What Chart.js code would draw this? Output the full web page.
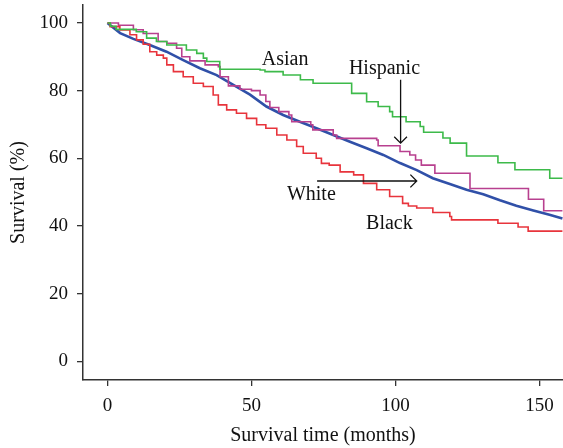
<!DOCTYPE html>
<html>
<head>
<meta charset="utf-8">
<script src="https://cdn.jsdelivr.net/npm/chart.js@4.4.1/dist/chart.umd.min.js"></script>
<style>
  html, body { margin: 0; padding: 0; background: #fff; }
  #wrap { width: 563px; height: 448px; }
</style>
</head>
<body>
<div id="wrap"><canvas id="kmChart" width="563" height="448"></canvas></div>
<script>
// survival time in months and survival %
var asianT = [0, 1, 3, 10, 13.6, 17, 20.6, 27.4, 31, 33.3, 34.5, 39, 53, 54.7, 61, 67, 71.4, 84.8, 90, 94, 98, 99, 103.7, 108.6, 109.8, 116.5, 119, 124.7, 135.6, 141.5, 153.6, 158];
var asianS = [100, 99, 98.1, 97.4, 95.5, 94.5, 93.5, 92, 91, 89.6, 88.6, 86.3, 86.1, 85.6, 84.6, 83.2, 82.2, 79.2, 76.7, 75.3, 73.8, 72.3, 70.8, 69.4, 67.7, 66, 64.5, 60.7, 58.7, 56.6, 54.1, 54.1];

var whiteT = [0, 4.4, 9, 14.7, 20.5, 26.3, 32.1, 37.9, 43.7, 49.5, 55.2, 61, 66.8, 72.6, 78.4, 84.2, 90, 95.8, 101.6, 107.4, 113, 118.9, 124.7, 130.5, 136.3, 142, 147.9, 153.5, 158];
var whiteS = [100, 97, 95.3, 93.5, 91.5, 89, 86.6, 84.6, 81.7, 78.8, 75.3, 72.8, 70.8, 68.9, 66.9, 64.9, 63, 61, 58.6, 56.5, 54.1, 52.4, 50.7, 49.4, 47.6, 46, 44.6, 43.3, 42.2];

var hispT = [0, 3.8, 9, 12.4, 17.6, 20.6, 24, 25.8, 28.6, 33.9, 38.5, 39.1, 42, 46, 50, 53, 55, 56.4, 59.5, 63, 64, 70.6, 71.3, 78.4, 79.6, 93.5, 94, 101.6, 105, 107, 109, 113.7, 125.9, 146.2, 151.5, 158];
var hispS = [100, 99.3, 98, 96.9, 94.5, 94, 92.5, 90, 88.8, 87.6, 87.1, 84.1, 81.4, 80.4, 80, 78.7, 76.8, 75, 73.8, 72.8, 70.8, 69.9, 68.4, 66.9, 65.9, 65.4, 63.7, 62, 61, 59.5, 58, 55.6, 51.1, 47.9, 44.5, 44.5];

var blackT = [0, 0.9, 4.3, 7.8, 10.1, 12.4, 14.7, 17.1, 19.4, 20.6, 22.9, 26.3, 29.8, 33.3, 36.7, 38.5, 41.4, 44.8, 48.3, 51.8, 55, 58.8, 62.3, 65.7, 68, 72.5, 74.3, 77, 80.8, 85.5, 88.9, 93.5, 98, 102.5, 104.5, 107.4, 113, 118.9, 119.5, 135.6, 142.6, 146.1, 158];
var blackS = [100, 98.9, 97.9, 96.5, 95, 93.7, 91.5, 90.5, 89.6, 87.6, 85.6, 84.1, 82.2, 81.2, 78.7, 75.8, 74.3, 73.3, 71.8, 69.9, 68.9, 66.9, 65.4, 63.5, 61.5, 60, 58.5, 58, 56, 55.1, 52.6, 50.7, 48.7, 46.7, 45.9, 45.3, 44, 42.8, 41.8, 40.8, 39.7, 38.5, 38.5];

var xTicks = [0, 50, 100, 150];
var yTicks = [0, 20, 40, 60, 80, 100];

var serif = '"Liberation Serif", "Times New Roman", serif';

function toPoints(ts, ss) {
    return ts.map(function(t, i) { return { x: t, y: ss[i] }; });
}

// text labels and arrows, placed in data units
var labelSpots = [
    { text: 'Asian', x: 61.7, y: 89.2 },
    { text: 'Hispanic', x: 96.2, y: 86.6 },
    { text: 'White', x: 70.8, y: 49.1 },
    { text: 'Black', x: 97.9, y: 40.7 }
];
var arrowSpots = [
    { x1: 101.8, y1: 83.2, x2: 101.8, y2: 64.5 },
    { x1: 72.8, y1: 53.3, x2: 107.4, y2: 53.3 }
];

var labelPlugin = {
    id: 'groupLabels',
    afterDatasetsDraw: function(chart) {
        var ctx = chart.ctx;
        var xs = chart.scales.x, ys = chart.scales.y;
        ctx.save();
        ctx.fillStyle = '#111';
        ctx.font = '20px ' + serif;
        ctx.textAlign = 'center';
        ctx.textBaseline = 'middle';
        labelSpots.forEach(function(l) {
            ctx.fillText(l.text, xs.getPixelForValue(l.x), ys.getPixelForValue(l.y));
        });
        ctx.strokeStyle = '#111';
        ctx.lineWidth = 1.3;
        arrowSpots.forEach(function(a) {
            var x1 = xs.getPixelForValue(a.x1), y1 = ys.getPixelForValue(a.y1);
            var x2 = xs.getPixelForValue(a.x2), y2 = ys.getPixelForValue(a.y2);
            var ang = Math.atan2(y2 - y1, x2 - x1);
            var len = 9;
            ctx.beginPath();
            ctx.moveTo(x1, y1);
            ctx.lineTo(x2, y2);
            ctx.moveTo(x2 - len * Math.cos(ang - Math.PI / 4), y2 - len * Math.sin(ang - Math.PI / 4));
            ctx.lineTo(x2, y2);
            ctx.lineTo(x2 - len * Math.cos(ang + Math.PI / 4), y2 - len * Math.sin(ang + Math.PI / 4));
            ctx.stroke();
        });
        ctx.restore();
    }
};

function kmSet(ts, ss, color, width, stepped) {
    return {
        data: toPoints(ts, ss),
        borderColor: color,
        borderWidth: width,
        stepped: stepped,
        pointRadius: 0,
        fill: false,
        tension: 0
    };
}

var ctx = document.getElementById('kmChart').getContext('2d');
var kmChart = new Chart(ctx, {
    type: 'line',
    data: {
        datasets: [
            kmSet(asianT, asianS, '#3dba4a', 1.6, 'before'),
            kmSet(blackT, blackS, '#e8343c', 1.6, 'before'),
            kmSet(hispT, hispS, '#b8408f', 1.6, 'before'),
            kmSet(whiteT, whiteS, '#3050a8', 2.6, false)
        ]
    },
    options: {
        responsive: false,
        animation: false,
        layout: { padding: { top: 5, right: 0, left: 0, bottom: 0 } },
        plugins: {
            legend: { display: false },
            tooltip: { enabled: false }
        },
        scales: {
            x: {
                type: 'linear',
                min: -8.5,
                max: 158.2,
                afterFit: function(axis) {
                    axis.height = 68;
                    axis.paddingLeft = 0;
                    axis.paddingRight = 0;
                },
                afterBuildTicks: function(axis) {
                    axis.ticks = xTicks.map(function(v) { return { value: v }; });
                },
                grid: { drawOnChartArea: false, tickLength: 6, color: '#333', lineWidth: 1.3 },
                border: { color: '#333', width: 1.5 },
                ticks: { color: '#111', padding: 9, maxRotation: 0, font: { family: serif, size: 19 } },
                title: {
                    display: true,
                    text: 'Survival time (months)',
                    color: '#111',
                    padding: { top: 0, bottom: 0 },
                    font: { family: serif, size: 20 }
                }
            },
            y: {
                type: 'linear',
                min: -5.5,
                max: 105.3,
                afterFit: function(axis) {
                    axis.width = 83;
                    axis.paddingTop = 0;
                    axis.paddingBottom = 0;
                },
                afterBuildTicks: function(axis) {
                    axis.ticks = yTicks.map(function(v) { return { value: v }; });
                },
                grid: { drawOnChartArea: false, tickLength: 6, color: '#333', lineWidth: 1.3 },
                border: { color: '#333', width: 1.5 },
                ticks: { color: '#111', padding: 9, font: { family: serif, size: 19 } },
                title: {
                    display: true,
                    text: 'Survival (%)',
                    color: '#111',
                    padding: { top: 7, bottom: 0 },
                    font: { family: serif, size: 20 }
                }
            }
        }
    },
    plugins: [labelPlugin]
});
</script>
</body>
</html>
